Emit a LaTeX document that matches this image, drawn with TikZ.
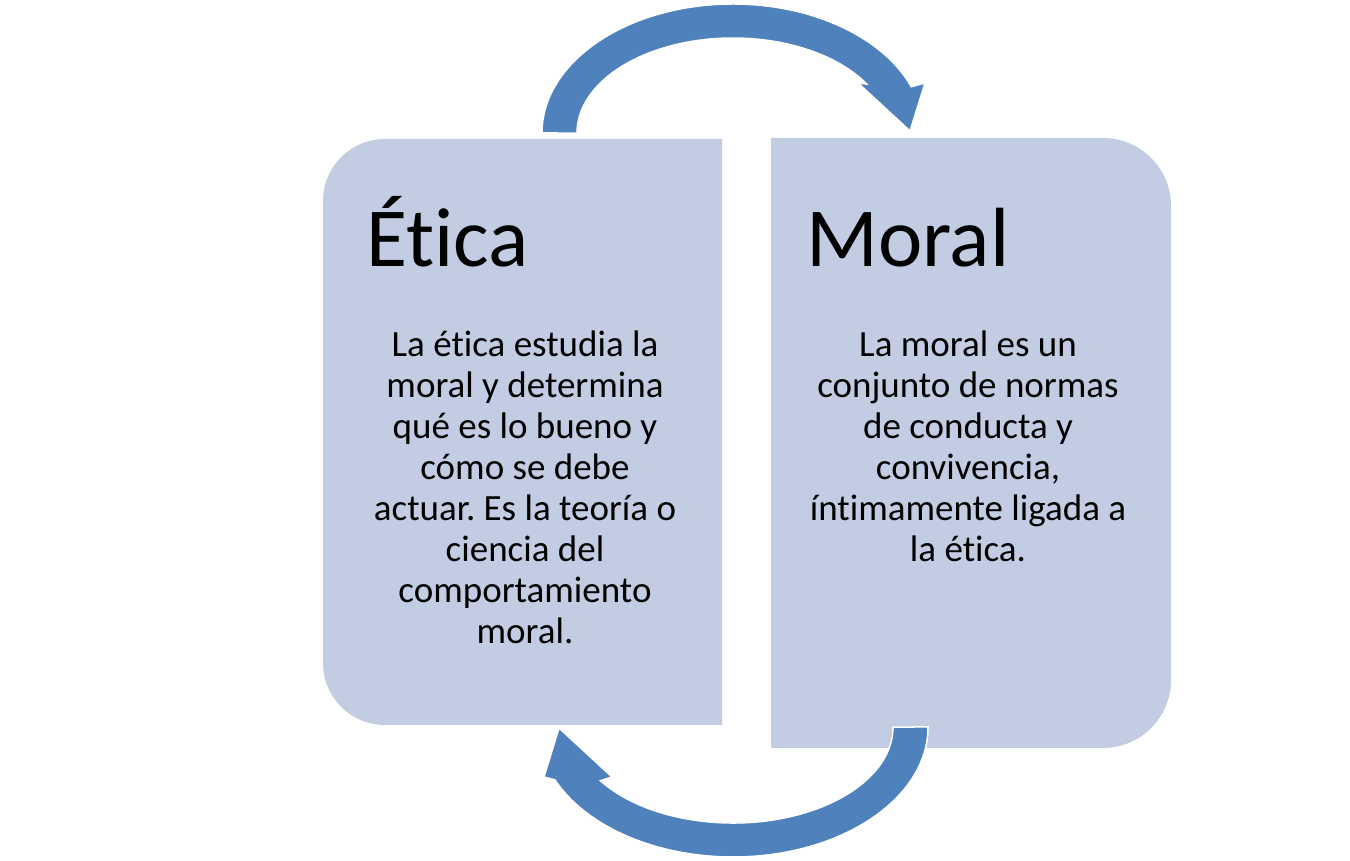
\documentclass[tikz,border=0pt]{standalone}
\usepackage{fontspec}
\setmainfont[Ligatures=NoCommon]{Carlito}
\frenchspacing
\definecolor{boxfill}{RGB}{194,205,227}
\definecolor{arrowblue}{RGB}{79,129,189}
\begin{document}
\begin{tikzpicture}[x=1pt,y=1pt,
  panel/.style={fill=boxfill},
  cyclearrow/.style={fill=arrowblue,draw=white,line width=1.5pt,line join=miter},
  title/.style={anchor=base west,inner sep=0pt,font=\fontsize{84}{100}\selectfont},
  body/.style={anchor=base,inner sep=0pt,align=center,font=\fontsize{37}{41}\selectfont}]
\useasboundingbox (0,0) rectangle (1350,861);
% panels
\path[panel] (722,136) -- (385,136) arc[start angle=270,end angle=180,radius=62pt]
  -- (323,660) arc[start angle=180,end angle=90,radius=62pt] -- (722,722) -- cycle;
\path[panel] (771,723) -- (1103,723) arc[start angle=90,end angle=0,radius=68pt]
  -- (1171,181) arc[start angle=0,end angle=-90,radius=68pt] -- (771,113) -- cycle;
% texts
\node[title] (etica) at (366,594) {Ética};
\node[title] (moral) at (806,594) {Moral};
\node[body] (eticatext) at (525,217) {La ética estudia la\\moral y determina\\qué es lo bueno y\\cómo se debe\\actuar. Es la teoría o\\ciencia del\\comportamiento\\moral.};
\node[body] (moraltext) at (968,299) {La moral es un\\conjunto de normas\\de conducta y\\convivencia,\\íntimamente ligada a\\la ética.};
% arrows
\path[cyclearrow] (542,728) arc[start angle=180,end angle=21,x radius=191pt,y radius=129pt]
  -- (925,778) -- (910,730) -- (858,778)
  -- (866.7,776.9) arc[start angle=31,end angle=180,x radius=156pt,y radius=95pt] -- cycle;
\path[cyclearrow] (928,134) arc[start angle=0,end angle=-156,x radius=195pt,y radius=130pt]
  -- (544,84) -- (559,133) -- (612,84)
  -- (600.4,80.3) arc[start angle=-146,end angle=0,x radius=160pt,y radius=96pt] -- cycle;
\end{tikzpicture}
\end{document}
